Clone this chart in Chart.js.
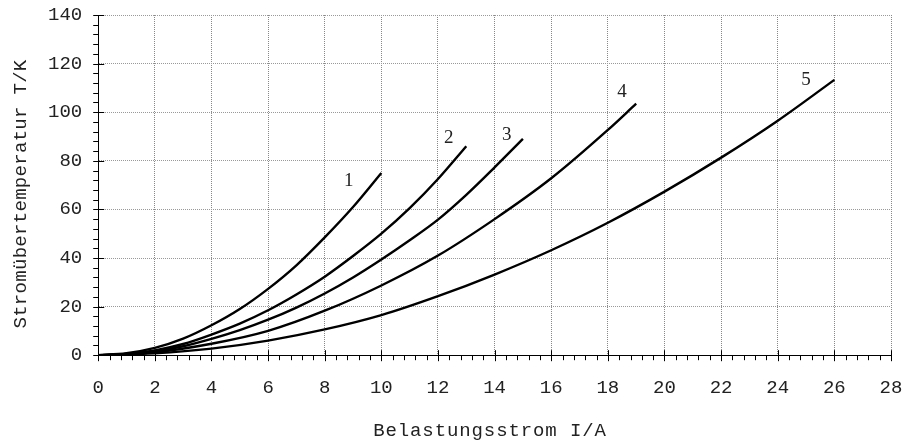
<!DOCTYPE html>
<html>
<head>
<meta charset="utf-8">
<script src="https://cdn.jsdelivr.net/npm/chart.js@4/dist/chart.umd.min.js"></script>
<style>
  html, body { margin: 0; padding: 0; background: #fff; }
  #wrap { width: 902px; height: 444px; }
</style>
</head>
<body>
<div id="wrap"><canvas id="chart" width="902" height="444"></canvas></div>
<script>
// axis ticks
const xTicks = [0, 2, 4, 6, 8, 10, 12, 14, 16, 18, 20, 22, 24, 26, 28];
const yTicks = [0, 20, 40, 60, 80, 100, 120, 140];

// curves 1..5 (current I/A -> temperature rise T/K)
const c1x = [0, 1, 2, 3, 4, 5, 6, 7, 8, 9, 10];
const c1y = [0, 0.8, 3, 6.8, 12.3, 19, 27.3, 37, 48.5, 61, 75];
const c2x = [0, 1, 2, 3, 4, 5, 6, 7, 8, 9, 10, 11, 12, 13];
const c2y = [0, 0.5, 2, 4.6, 8.5, 13, 18.5, 25, 32.3, 40.8, 50, 60.5, 72.5, 86];
const c3x = [0, 1, 2, 3, 4, 5, 6, 7, 8, 9, 10, 11, 12, 13, 14, 15];
const c3y = [0, 0.4, 1.6, 3.7, 6.7, 10.3, 14.6, 19.6, 25.4, 32, 39.4, 47.3, 55.8, 66, 77.3, 89];
const c4x = [0, 2, 4, 6, 8, 10, 12, 14, 16, 18, 19];
const c4y = [0, 1.2, 4.7, 10, 18.3, 28.7, 41, 56, 72.8, 92.7, 103.5];
const c5x = [0, 2, 4, 6, 8, 10, 12, 14, 16, 18, 20, 22, 24, 26];
const c5y = [0, 0.8, 2.7, 6, 10.6, 16.5, 24.3, 33.2, 43.2, 54.5, 67.3, 81.3, 96.5, 113.3];

// curve labels
const curveNames = ['1', '2', '3', '4', '5'];
const nameX = [8.85, 12.38, 14.43, 18.5, 25.0];
const nameY = [71.6, 89.4, 90.6, 108.4, 113.4];

const mono = '"Liberation Mono", "Courier New", monospace';
const serif = '"Liberation Serif", "Times New Roman", serif';

function pts(xs, ys) {
    return xs.map((x, i) => ({ x: x, y: ys[i] }));
}

function curve(xs, ys) {
    return {
        data: pts(xs, ys),
        borderColor: '#000',
        borderWidth: 2.4,
        pointRadius: 0,
        fill: false,
        cubicInterpolationMode: 'monotone'
    };
}

// no extra room for label overhang, the layout padding sets the plot box
function noOverhang(s) {
    s.paddingTop = 0;
    s.paddingBottom = 0;
    s.paddingLeft = 0;
    s.paddingRight = 0;
}

// minor/major tick marks, curve numbers and axis titles
const decorations = {
    id: 'decorations',
    afterDraw(chart) {
        const ctx = chart.ctx;
        const xs = chart.scales.x;
        const ys = chart.scales.y;
        const x0 = xs.getPixelForValue(0);
        const y0 = ys.getPixelForValue(0);
        ctx.save();
        ctx.strokeStyle = '#000';
        ctx.lineWidth = 1;
        ctx.beginPath();
        for (let i = 0; i <= 70; i++) {
            const px = Math.round(xs.getPixelForValue(i * 0.4)) + 0.5;
            if (i % 5 === 0) {
                ctx.moveTo(px, y0 - 5);
                ctx.lineTo(px, y0 + 6);
            } else {
                ctx.moveTo(px, y0);
                ctx.lineTo(px, y0 + 5);
            }
        }
        for (let i = 0; i <= 35; i++) {
            const py = Math.round(ys.getPixelForValue(i * 4)) + 0.5;
            if (i % 5 === 0) {
                ctx.moveTo(x0 - 5, py);
                ctx.lineTo(x0 + 6, py);
            } else {
                ctx.moveTo(x0 - 5, py);
                ctx.lineTo(x0, py);
            }
        }
        ctx.stroke();

        // curve numbers
        ctx.fillStyle = '#222';
        ctx.font = '19px ' + serif;
        ctx.textAlign = 'center';
        ctx.textBaseline = 'middle';
        curveNames.forEach((n, i) => {
            ctx.fillText(n, xs.getPixelForValue(nameX[i]), ys.getPixelForValue(nameY[i]));
        });

        // axis titles
        ctx.font = '19px ' + mono;
        ctx.letterSpacing = '0.9px';
        ctx.fillText('Belastungsstrom I/A', 490, 431);
        ctx.letterSpacing = '0.3px';
        ctx.translate(21, 194);
        ctx.rotate(-Math.PI / 2);
        ctx.fillText('Stromübertemperatur T/K', 0, 0);
        ctx.restore();
    }
};

const ctx = document.getElementById('chart').getContext('2d');
const chart = new Chart(ctx, {
    type: 'line',
    data: {
        datasets: [
            curve(c1x, c1y),
            curve(c2x, c2y),
            curve(c3x, c3y),
            curve(c4x, c4y),
            curve(c5x, c5y)
        ]
    },
    options: {
        responsive: false,
        animation: false,
        layout: { padding: { left: 32, right: 11, top: 15, bottom: 24 } },
        plugins: {
            legend: { display: false },
            tooltip: { enabled: false }
        },
        scales: {
            x: {
                type: 'linear',
                min: 0,
                max: 28,
                afterBuildTicks: (s) => { s.ticks = xTicks.map(v => ({ value: v })); },
                afterFit: noOverhang,
                grid: { color: '#888', lineWidth: 1, drawTicks: false },
                border: { display: true, color: '#000', width: 1, dash: [1, 1] },
                ticks: {
                    color: '#222',
                    font: { family: mono, size: 19 },
                    padding: 21,
                    maxRotation: 0,
                    autoSkip: false
                }
            },
            y: {
                type: 'linear',
                min: 0,
                max: 140,
                afterBuildTicks: (s) => { s.ticks = yTicks.map(v => ({ value: v })); },
                afterFit: noOverhang,
                grid: { color: '#999', lineWidth: 1, drawTicks: false },
                border: { display: true, color: '#000', width: 1, dash: [1, 1] },
                ticks: {
                    color: '#222',
                    font: { family: mono, size: 19 },
                    padding: 16
                }
            }
        }
    },
    plugins: [decorations]
});
</script>
</body>
</html>
